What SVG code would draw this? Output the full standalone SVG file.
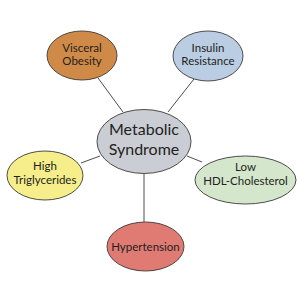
<svg xmlns="http://www.w3.org/2000/svg" width="302" height="282" viewBox="0 0 302 282">
<style>
.n{stroke:#3a3a3a;stroke-width:0.9}
.c{stroke:#3a3a3a;stroke-width:0.9;fill:none}
text{font-family:Lato,"Open Sans","DejaVu Sans",sans-serif;font-size:11.5px;fill:#231f20;text-anchor:middle}
.big{font-size:16px}
</style>
<rect width="302" height="282" fill="#ffffff"/>
<g id="connectors">
<line class="c" x1="98" y1="78" x2="123" y2="112"/>
<line class="c" x1="194" y1="79" x2="168" y2="112"/>
<line class="c" x1="81" y1="163" x2="100" y2="156"/>
<line class="c" x1="187" y1="156" x2="202" y2="162"/>
<line class="c" x1="144" y1="174" x2="144" y2="222"/>
</g>
<g id="visceral">
<ellipse class="n" cx="82" cy="55.5" rx="35" ry="24.5" fill="#d08a48"/>
<text x="82" y="51.5">Visceral</text>
<text x="82" y="64.5">Obesity</text>
</g>
<g id="insulin">
<ellipse class="n" cx="208" cy="56" rx="35" ry="25" fill="#bbcde3"/>
<text x="208" y="51.5">Insulin</text>
<text x="208" y="65">Resistance</text>
</g>
<g id="metabolic">
<ellipse class="n" cx="144" cy="141.5" rx="47" ry="32" fill="#cbcdd4"/>
<text class="big" x="144" y="135">Metabolic</text>
<text class="big" x="144" y="154.5">Syndrome</text>
</g>
<g id="triglycerides">
<ellipse class="n" cx="45" cy="175.5" rx="38" ry="24.5" fill="#f5ee8a"/>
<text x="45" y="169.5">High</text>
<text x="45" y="183.5">Triglycerides</text>
</g>
<g id="hdl">
<ellipse class="n" cx="245.5" cy="180" rx="50.5" ry="24" fill="#d4e6cc"/>
<text x="245.5" y="171">Low</text>
<text x="245.5" y="185">HDL-Cholesterol</text>
</g>
<g id="hypertension">
<ellipse class="n" cx="145.5" cy="246.5" rx="38.5" ry="24.5" fill="#e07b74"/>
<text x="145.5" y="250.5">Hypertension</text>
</g>
</svg>
